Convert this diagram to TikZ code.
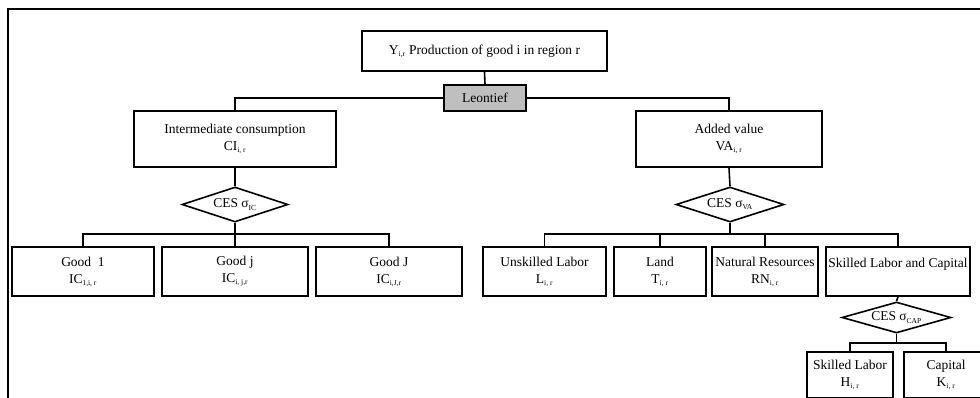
\documentclass[tikz,border=0pt]{standalone}
\usepackage{fontspec}
\setmainfont{Liberation Serif}
\usetikzlibrary{shapes.geometric}
\newcommand{\sbs}[1]{\textsubscript{\fontsize{7.5}{8}\selectfont #1}}
\begin{document}
\begin{tikzpicture}[x=1pt,y=-1pt,
  every node/.style={font=\fontsize{13.5}{17}\selectfont},
  box/.style={draw,line width=1.6pt,rectangle,inner sep=1pt,align=center,minimum height=49pt},
  ces/.style={draw,line width=1.6pt,diamond,aspect=3.2,inner sep=0pt,minimum height=35pt},
  conn/.style={line width=1.6pt}]
\useasboundingbox (0,0) rectangle (980,397);
\draw[line width=2pt] (8,402) -- (8,9) -- (985,9);

\node[box,minimum width=245pt,minimum height=40pt] (Y) at (484.5,51) {Y\sbs{i,r} Production of good i in region r};
\node[box,minimum width=82pt,minimum height=26pt,fill=black!25] (leo) at (485,98) {Leontief};
\node[box,minimum width=202pt,minimum height=56pt] (IC) at (235,139) {Intermediate consumption\\CI\sbs{i, r}};
\node[box,minimum width=186pt,minimum height=56pt] (VA) at (729,139) {Added value\\VA\sbs{i, r}};

\node[ces,minimum width=106pt] (dIC) at (235,204.5) {CES σ\sbs{IC}};
\node[ces,minimum width=108pt] (dVA) at (730,204.5) {CES σ\sbs{VA}};

\node[box,minimum width=142pt] (g1) at (83,271.5) {Good~~1\\IC\sbs{1,i, r}};
\node[box,minimum width=146pt] (gj) at (235,271.5) {Good j\\IC\sbs{i, j,r}};
\node[box,minimum width=146pt] (gJ) at (389,271.5) {Good J\\IC\sbs{i,J,r}};

\node[box,minimum width=123pt] (L) at (544.5,271.5) {Unskilled Labor\\L\sbs{i, r}};
\node[box,minimum width=92pt] (T) at (660,271.5) {Land\\T\sbs{i, r}};
\node[box,minimum width=106pt] (RN) at (765,271.5) {Natural Resources\\RN\sbs{i, r}};
\node[box,minimum width=144pt] (SLC) at (898,271.5) {Skilled Labor and Capital\\\phantom{X}};

\node[ces,minimum width=109pt,minimum height=31pt] (dCAP) at (896.5,317.5) {CES σ\sbs{CAP}};

\node[box,minimum width=86pt,minimum height=46pt] (H) at (850,375) {Skilled Labor\\H\sbs{i, r}};
\node[box,minimum width=84pt,minimum height=46pt] (K) at (946,375) {Capital\\K\sbs{i, r}};

\coordinate (busIC) at (235,234);
\coordinate (busVA) at (730,234);
\coordinate (busCAP) at (896.5,343);

\draw[conn] (Y.south) -- (leo.north);
\draw[conn] (leo.west) -| (IC.north);
\draw[conn] (leo.east) -| (VA.north);
\draw[conn] (IC.south) -- (dIC.north);
\draw[conn] (VA.south) -- (dVA.north);
\draw[conn] (dIC.south) -- (busIC);
\draw[conn] (g1.north) -- (g1.north |- busIC) -- (gJ.north |- busIC) -- (gJ.north);
\draw[conn] (busIC) -- (gj.north);
\draw[conn] (dVA.south) -- (busVA);
\draw[conn] (L.north) -- (L.north |- busVA) -- (SLC.north |- busVA) -- (SLC.north);
\draw[conn] (T.north) -- (T.north |- busVA);
\draw[conn] (RN.north) -- (RN.north |- busVA);
\draw[conn] (SLC.south) -- (dCAP.north);
\draw[conn] (dCAP.south) -- (busCAP);
\draw[conn] (H.north) -- (H.north |- busCAP) -- (K.north |- busCAP) -- (K.north);
\end{tikzpicture}
\end{document}
